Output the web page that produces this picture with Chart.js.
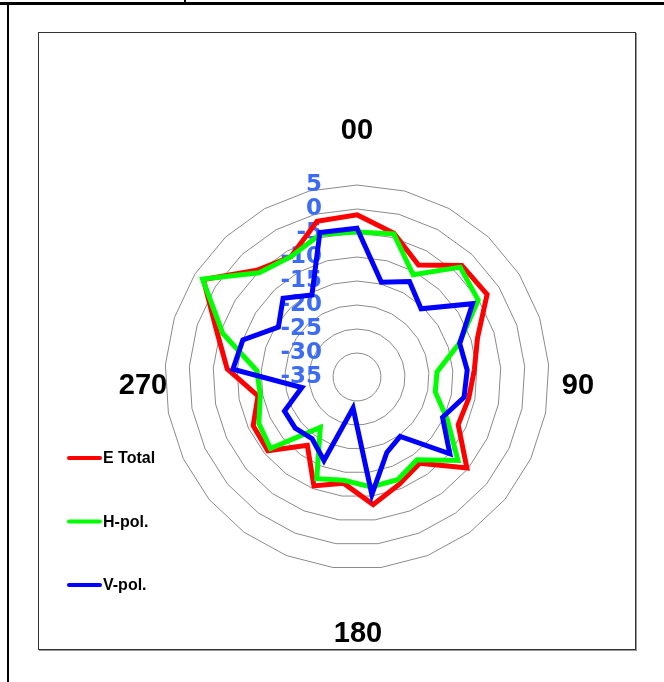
<!DOCTYPE html>
<html>
<head>
<meta charset="utf-8">
<script src="https://cdn.jsdelivr.net/npm/chart.js@4.4.1/dist/chart.umd.min.js"></script>
<style>
  html, body { margin: 0; padding: 0; background: #fff; }
  body { width: 664px; height: 682px; position: relative; overflow: hidden; }
  #topRule { position: absolute; left: 0; top: 2px; width: 664px; height: 3px; background: #000; }
  #leftRule { position: absolute; left: 7px; top: 4px; width: 2px; height: 678px; background: #000; }
  #tickMark { position: absolute; left: 184px; top: 0; width: 2px; height: 3px; background: #000; }
  #frame { position: absolute; left: 38px; top: 32px; width: 596px; height: 616px; border: 1px solid #333; box-shadow: 1px 1px 0 #999; }
  #chart { position: absolute; left: 0; top: 0; }
</style>
</head>
<body>
<div id="topRule"></div>
<div id="leftRule"></div>
<div id="tickMark"></div>
<div id="frame"></div>
<canvas id="chart" width="664" height="682"></canvas>
<script>
// Angles 0..360 every 15 degrees (360 repeats 0, as in the sheet)
const angles = ['0', '15', '30', '45', '60', '75', '90', '105', '120', '135', '150', '165', '180',
                '195', '210', '225', '240', '255', '270', '285', '300', '315', '330', '345', '360'];

const eTotal = [-1.2, -4.1, -8.4, -3.1, -2.9, -8.6, -10.5, -11.3, -11.7, -5.3, -12.8, -11, -8.2,
                -12.7, -10.6, -17.4, -10.9, -11.1, -14, -7.9, -4.3, 2.9, -4.5, -6.4, -1.5];
const hPol = [-4.8, -4.2, -10.7, -3.6, -5.1, -12.7, -18.3, -18.4, -14.2, -7.7, -13.7, -12, -11.9,
              -13.3, -12.2, -22, -11.6, -12.4, -14.5, -14.1, -5.6, 3.1, -5.2, -6.4, -4.3];
const vPol = [-4, -14.6, -12.3, -15.5, -6.5, -12.5, -12, -12.3, -15.3, -9.9, -19.7, -18.1, -10.3,
              -28.5, -16.3, -19.1, -18.3, -18.3, -23.3, -9.1, -10, -15.6, -12.5, -15.5, -3.9];

const scaleMin = -35;
const scaleMax = 5;
const scaleStep = 5;

// compass captions around the plot: 0, 90, 180, 270 degrees
const compassLabels = ['00', '90', '180', '270'];

// draws the value labels, the compass captions and the legend
const extras = {
    id: 'extras',
    beforeDatasetsDraw(chart) {
        const ctx = chart.ctx;
        const r = chart.scales.r;
        ctx.save();
        ctx.font = 'bold 23px "DejaVu Sans", sans-serif';
        ctx.fillStyle = '#3d6cf4';
        ctx.textAlign = 'right';
        ctx.textBaseline = 'middle';
        r.ticks.forEach(t => {
            const d = r.getDistanceFromCenterForValue(t.value);
            ctx.fillText(String(t.value), r.xCenter - 35, r.yCenter - d);
        });
        ctx.restore();
    },
    afterDraw(chart) {
        const ctx = chart.ctx;
        const r = chart.scales.r;
        ctx.save();
        // compass captions
        ctx.font = 'bold 29px "Liberation Sans", Arial, sans-serif';
        ctx.fillStyle = '#000';
        ctx.textAlign = 'center';
        ctx.textBaseline = 'middle';
        const spots = [[0, -246], [221, 9], [1, 257], [-214, 9]];
        compassLabels.forEach((txt, i) => {
            ctx.fillText(txt, r.xCenter + spots[i][0], r.yCenter + spots[i][1]);
        });
        // legend
        ctx.font = 'bold 16px "Liberation Sans", Arial, sans-serif';
        ctx.textAlign = 'left';
        chart.data.datasets.forEach((ds, i) => {
            const y = 458 + i * 63.5;
            ctx.strokeStyle = ds.borderColor;
            ctx.lineWidth = 4;
            ctx.lineCap = 'round';
            ctx.beginPath();
            ctx.moveTo(69, y);
            ctx.lineTo(100, y);
            ctx.stroke();
            ctx.fillStyle = '#000';
            ctx.fillText(ds.label, 103, y + 1);
        });
        ctx.restore();
    }
};

const data = {
    labels: angles,
    datasets: [
        { label: 'E Total', data: eTotal, borderColor: '#ff0000', order: 2 },
        { label: 'H-pol.', data: hPol, borderColor: '#00ff00', order: 1 },
        { label: 'V-pol.', data: vPol, borderColor: '#0000ff', order: 0 }
    ]
};
data.datasets.forEach(ds => {
    ds.borderWidth = 5;
    ds.pointRadius = 0;
    ds.fill = false;
    ds.backgroundColor = 'transparent';
});

const config = {
    type: 'radar',
    data: data,
    options: {
        responsive: false,
        animation: false,
        devicePixelRatio: 1,
        layout: { padding: { left: 165, right: 115, top: 185, bottom: 113 } },
        plugins: {
            legend: { display: false },
            tooltip: { enabled: false }
        },
        scales: {
            r: {
                min: scaleMin,
                max: scaleMax,
                ticks: { display: false, stepSize: scaleStep },
                grid: { color: '#8a8a8a', lineWidth: 1 },
                angleLines: { display: false },
                pointLabels: { display: false }
            }
        }
    },
    plugins: [extras]
};

new Chart(document.getElementById('chart'), config);
</script>
</body>
</html>
